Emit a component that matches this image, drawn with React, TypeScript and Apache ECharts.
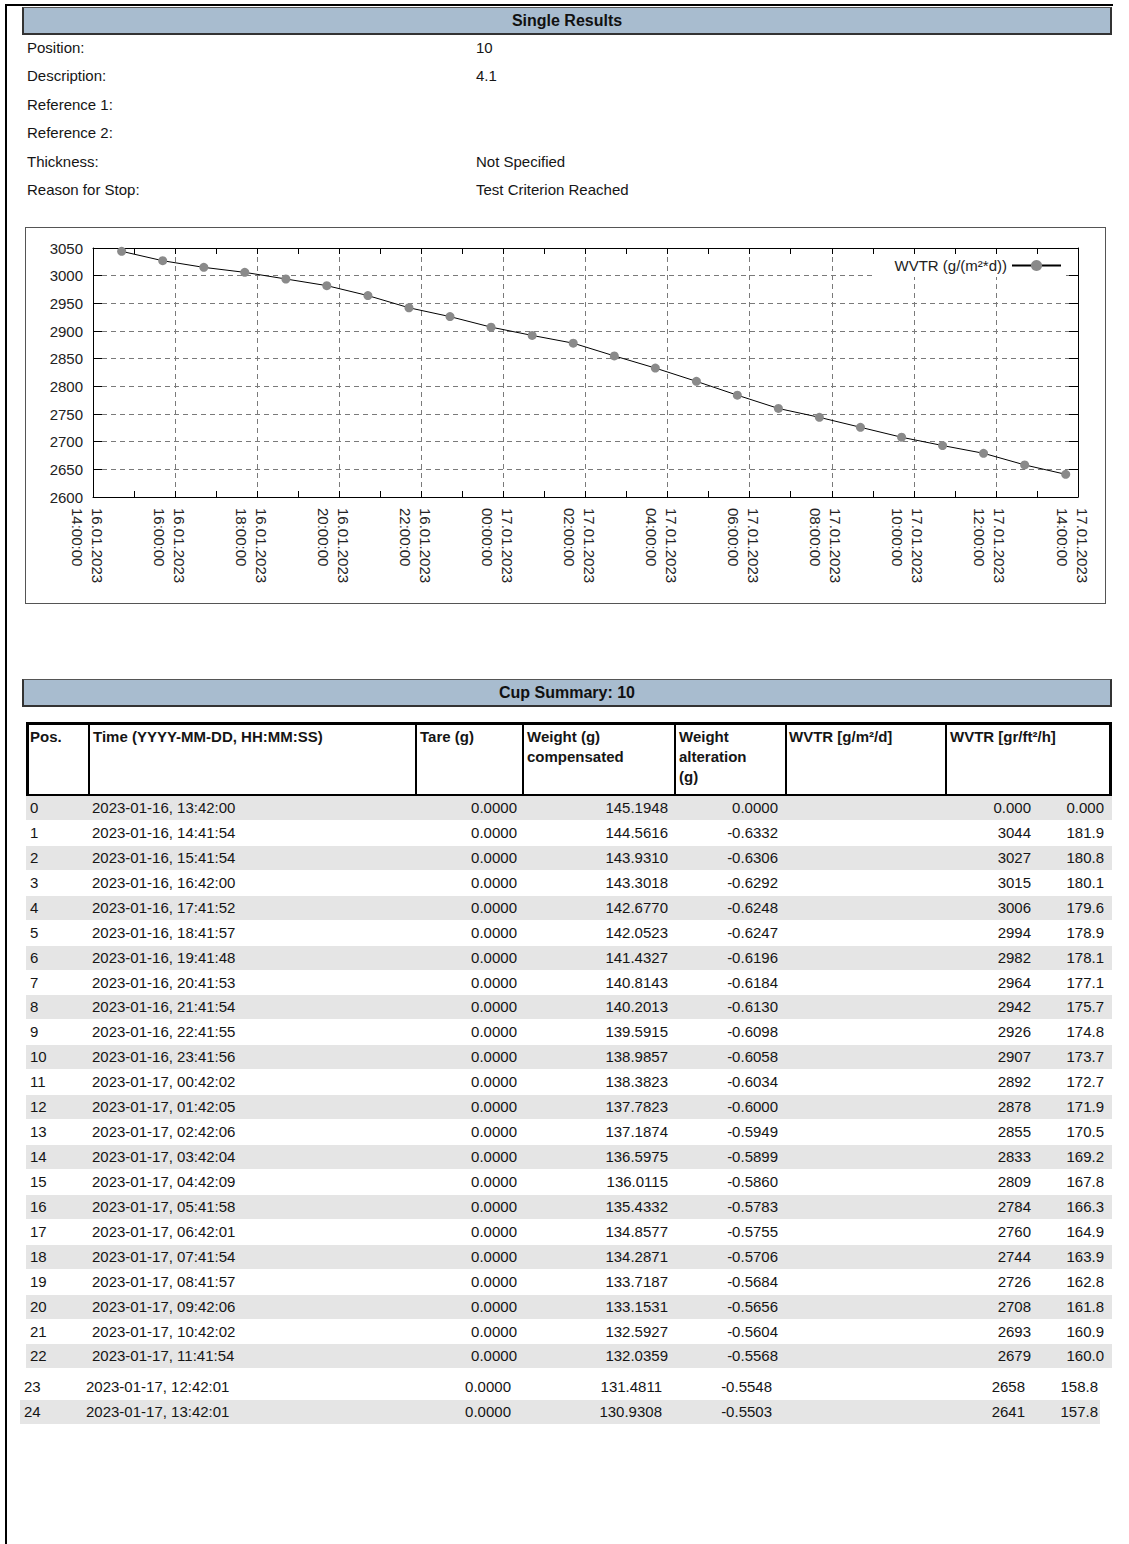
import React, { useEffect, useRef } from "react";
import * as echarts from "echarts";

const FONT = '"Liberation Sans", Arial, Helvetica, sans-serif';

const infoLabels = ["Position:", "Description:", "Reference 1:", "Reference 2:", "Thickness:", "Reason for Stop:"];
const infoValues = ["10", "4.1", "", "", "Not Specified", "Test Criterion Reached"];

const positions = ["0", "1", "2", "3", "4", "5", "6", "7", "8", "9", "10", "11", "12", "13", "14", "15", "16", "17", "18", "19", "20", "21", "22", "23", "24"];
const times = [
  "2023-01-16, 13:42:00", "2023-01-16, 14:41:54", "2023-01-16, 15:41:54", "2023-01-16, 16:42:00",
  "2023-01-16, 17:41:52", "2023-01-16, 18:41:57", "2023-01-16, 19:41:48", "2023-01-16, 20:41:53",
  "2023-01-16, 21:41:54", "2023-01-16, 22:41:55", "2023-01-16, 23:41:56", "2023-01-17, 00:42:02",
  "2023-01-17, 01:42:05", "2023-01-17, 02:42:06", "2023-01-17, 03:42:04", "2023-01-17, 04:42:09",
  "2023-01-17, 05:41:58", "2023-01-17, 06:42:01", "2023-01-17, 07:41:54", "2023-01-17, 08:41:57",
  "2023-01-17, 09:42:06", "2023-01-17, 10:42:02", "2023-01-17, 11:41:54", "2023-01-17, 12:42:01",
  "2023-01-17, 13:42:01",
];
const tares = ["0.0000", "0.0000", "0.0000", "0.0000", "0.0000", "0.0000", "0.0000", "0.0000", "0.0000", "0.0000", "0.0000", "0.0000", "0.0000", "0.0000", "0.0000", "0.0000", "0.0000", "0.0000", "0.0000", "0.0000", "0.0000", "0.0000", "0.0000", "0.0000", "0.0000"];
const weights = ["145.1948", "144.5616", "143.9310", "143.3018", "142.6770", "142.0523", "141.4327", "140.8143", "140.2013", "139.5915", "138.9857", "138.3823", "137.7823", "137.1874", "136.5975", "136.0115", "135.4332", "134.8577", "134.2871", "133.7187", "133.1531", "132.5927", "132.0359", "131.4811", "130.9308"];
const alterations = ["0.0000", "-0.6332", "-0.6306", "-0.6292", "-0.6248", "-0.6247", "-0.6196", "-0.6184", "-0.6130", "-0.6098", "-0.6058", "-0.6034", "-0.6000", "-0.5949", "-0.5899", "-0.5860", "-0.5783", "-0.5755", "-0.5706", "-0.5684", "-0.5656", "-0.5604", "-0.5568", "-0.5548", "-0.5503"];
const wvtrMetric = [0, 3044, 3027, 3015, 3006, 2994, 2982, 2964, 2942, 2926, 2907, 2892, 2878, 2855, 2833, 2809, 2784, 2760, 2744, 2726, 2708, 2693, 2679, 2658, 2641];
const wvtrImperial = ["0.000", "181.9", "180.8", "180.1", "179.6", "178.9", "178.1", "177.1", "175.7", "174.8", "173.7", "172.7", "171.9", "170.5", "169.2", "167.8", "166.3", "164.9", "163.9", "162.8", "161.8", "160.9", "160.0", "158.8", "157.8"];

const headers = ["Pos.", "Time (YYYY-MM-DD, HH:MM:SS)", "Tare (g)", "Weight (g)\ncompensated", "Weight\nalteration\n(g)", "WVTR [g/m²/d]", "WVTR [gr/ft²/h]"];
const seriesName = "WVTR (g/(m²*d))";
const axisStart = "2023-01-16, 14:00:00";
const axisEnd = "2023-01-17, 14:00:00";

function parseTime(s: string): number {
  const m = s.match(/(\d+)-(\d+)-(\d+), (\d+):(\d+):(\d+)/)!;
  return Date.UTC(+m[1], +m[2] - 1, +m[3], +m[4], +m[5], +m[6]);
}
const p2 = (n: number) => (n < 10 ? "0" : "") + n;
function fmtTick(v: number): string {
  const d = new Date(v);
  const date = `${p2(d.getUTCDate())}.${p2(d.getUTCMonth() + 1)}.${d.getUTCFullYear()}`;
  const time = `${p2(d.getUTCHours())}:${p2(d.getUTCMinutes())}:${p2(d.getUTCSeconds())}`;
  return `{s| }\n{a|${date}}\n{a|${time}}`;
}

function Chart() {
  const ref = useRef<HTMLDivElement>(null);
  useEffect(() => {
    const chart = echarts.init(ref.current!, null, { renderer: "svg" });
    const data = times.slice(1).map((t, i) => [parseTime(t), wvtrMetric[i + 1]]);
    const T0 = parseTime(axisStart);
    const T1 = parseTime(axisEnd);
    const H2 = 2 * 3600 * 1000;
    const tickCol = "#000";
    const gridLine = { show: true, lineStyle: { color: "#7a7a7a", width: 1, type: [5, 4] as any } };
    chart.setOption({
      animation: false,
      textStyle: { fontFamily: FONT },
      grid: { left: 67, right: 27, top: 20, bottom: 106 },
      legend: {
        show: true,
        right: 39,
        top: 27,
        align: "right",
        backgroundColor: "#fff",
        padding: [3, 4, 4, 20],
        itemWidth: 49,
        itemHeight: 14,
        textStyle: { fontSize: 15, color: "#222", fontFamily: FONT },
        data: [seriesName],
      },
      xAxis: [
        {
          type: "value", min: T0, max: T1, interval: H2, position: "bottom",
          axisLine: { show: true, lineStyle: { color: tickCol, width: 1 } },
          axisTick: { show: true, inside: true, length: 6, lineStyle: { color: tickCol } },
          minorTick: { show: true, splitNumber: 2, length: 6, lineStyle: { color: tickCol } },
          splitLine: gridLine,
          axisLabel: {
            rotate: -90, formatter: fmtTick, color: "#222",
            margin: 11, fontFamily: FONT, showMinLabel: true, showMaxLabel: true,
            rich: {
              s: { fontSize: 1, lineHeight: 12 },
              a: { fontSize: 15, lineHeight: 20, color: "#222", fontFamily: FONT },
            },
          },
        },
        {
          type: "value", min: T0, max: T1, interval: H2, position: "top",
          axisLine: { show: true, lineStyle: { color: tickCol, width: 1 } },
          axisTick: { show: true, inside: true, length: 6, lineStyle: { color: tickCol } },
          minorTick: { show: true, splitNumber: 2, length: 6, lineStyle: { color: tickCol } },
          splitLine: { show: false },
          axisLabel: { show: false },
        },
      ],
      yAxis: [
        {
          type: "value", min: 2600, max: 3050, interval: 50, position: "left",
          axisLine: { show: true, lineStyle: { color: tickCol, width: 1 } },
          axisTick: { show: true, inside: true, length: 9, lineStyle: { color: tickCol } },
          splitLine: gridLine,
          axisLabel: { fontSize: 15, color: "#222", margin: 10, fontFamily: FONT, formatter: (v: number) => String(v) },
        },
        {
          type: "value", min: 2600, max: 3050, interval: 50, position: "right",
          axisLine: { show: true, lineStyle: { color: tickCol, width: 1 } },
          axisTick: { show: true, inside: true, length: 9, lineStyle: { color: tickCol } },
          splitLine: { show: false },
          axisLabel: { show: false },
        },
      ],
      series: [
        {
          name: seriesName, type: "line", xAxisIndex: 0, yAxisIndex: 0, data,
          symbol: "circle", symbolSize: 9, showSymbol: true,
          lineStyle: { color: "#000", width: 1 },
          itemStyle: { color: "#8a8a8a" },
          z: 3,
        },
      ],
    });
    return () => chart.dispose();
  }, []);
  return <div ref={ref} style={{ width: 1079, height: 375 }} />;
}

const abs = (l: number, t: number, extra: any = {}) => ({ position: "absolute" as const, left: l, top: t, ...extra });

function HeaderBar({ top, text }: { top: number; text: string }) {
  return (
    <div style={abs(22, top, {
      width: 1090, height: 28, boxSizing: "border-box", background: "#a8bccf",
      borderTop: "1px solid #555", borderLeft: "2px solid #333", borderRight: "2px solid #333", borderBottom: "2px solid #333",
      fontWeight: "bold", fontSize: 16, lineHeight: "25px", textAlign: "center", color: "#111",
    })}>{text}</div>
  );
}

const colLeft = [30, 92];
const colRight = [517, 668, 778, 1031, 1104];
const headerX = [30, 93, 420, 527, 679, 789, 950];
const sepX = [88, 415, 522, 674, 785, 945];

export default function App() {
  const rows = positions.map((p, i) => {
    const late = i >= 23;
    const shift = late ? -6 : 0;
    const top = late ? 1375 + (i - 23) * 25 : 796 + i * 24.93;
    const gray = i % 2 === 0;
    const cells = [p, times[i], tares[i], weights[i], alterations[i], wvtrMetric[i] === 0 ? "0.000" : String(wvtrMetric[i]), wvtrImperial[i]];
    return (
      <div key={i}>
        {gray && (
          <div style={abs(late ? 20 : 26, top, { width: late ? 1080 : 1086, height: 24, background: "#e5e5e5" })} />
        )}
        {cells.map((c, j) =>
          j < 2 ? (
            <div key={j} style={abs(colLeft[j] + shift, top, { height: 24, lineHeight: "24px", whiteSpace: "pre" })}>{c}</div>
          ) : (
            <div key={j} style={abs(colRight[j - 2] + shift - 200, top, { width: 200, textAlign: "right", height: 24, lineHeight: "24px", whiteSpace: "pre" })}>{c}</div>
          )
        )}
      </div>
    );
  });

  return (
    <div style={abs(0, 0, { width: 1129, height: 1544, fontFamily: FONT, fontSize: 15, color: "#151515", background: "#fff", overflow: "hidden" })}>
      <div style={abs(5, 4, { width: 1108, height: 2, background: "#000" })} />
      <div style={abs(5, 4, { width: 2, height: 1540, background: "#000" })} />
      <HeaderBar top={7} text="Single Results" />
      {infoLabels.map((l, i) => (
        <div key={"l" + i} style={abs(27, 38 + i * 28.4, { height: 20, lineHeight: "20px" })}>{l}</div>
      ))}
      {infoValues.map((v, i) => (
        <div key={"v" + i} style={abs(476, 38 + i * 28.4, { height: 20, lineHeight: "20px" })}>{v}</div>
      ))}
      <div style={abs(25, 227, { width: 1081, height: 377, boxSizing: "border-box", border: "1px solid #555" })}>
        <Chart />
      </div>
      <HeaderBar top={679} text="Cup Summary: 10" />
      <div style={abs(26, 722, { width: 1086, height: 75, boxSizing: "border-box", border: "3px solid #000" })} />
      {sepX.map((x, i) => (
        <div key={"s" + i} style={abs(x, 722, { width: 2, height: 75, background: "#000" })} />
      ))}
      {headers.map((h, i) => (
        <div key={"h" + i} style={abs(headerX[i], 727, { fontWeight: "bold", lineHeight: "20px", whiteSpace: "pre" })}>{h}</div>
      ))}
      {rows}
    </div>
  );
}
